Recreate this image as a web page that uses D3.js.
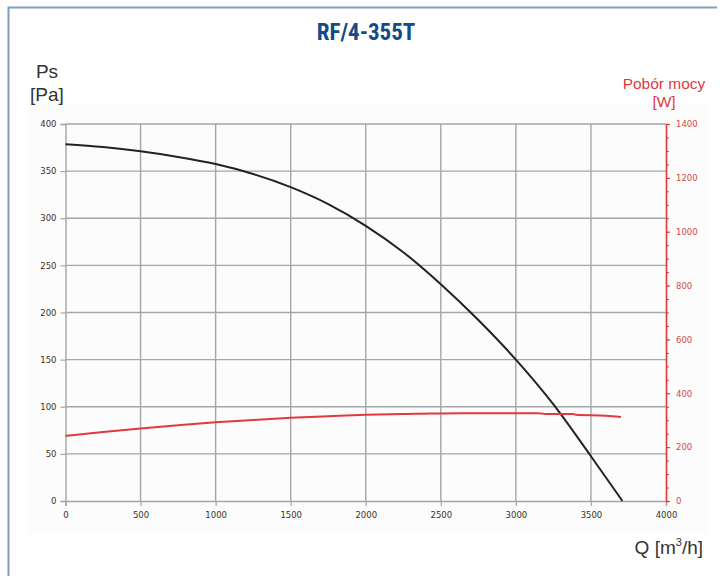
<!DOCTYPE html>
<html><head><meta charset="utf-8">
<script src="https://cdn.jsdelivr.net/npm/d3@7"></script>
<style>body{margin:0;background:#fff}svg{display:block}</style>
</head><body>
<svg id="c" width="725" height="576"></svg>
<script>
const title = "RF/4-355T";
const xTicks = [0,500,1000,1500,2000,2500,3000,3500,4000];
const yTicks = [0,50,100,150,200,250,300,350,400];
const yRTicks = [0,200,400,600,800,1000,1200,1400];
const flow = [0,250,500,750,1000,1250,1500,1750,2000,2250,2500,2750,3000,3250,3500,3710];
const pressure = [378.5,375.5,371,365,357.5,347,333,315,292,264,230,192,150,102.5,47.5,0];
const flowP = [0,250,500,750,1000,1250,1500,1750,2000,2250,2500,2750,3000,3150,3200,3380,3400,3600,3700];
const power = [242,256,269,281,292,301,309,315,320,323,325,326,326,326,323,323,320,317,312];

const svg = d3.select("#c");
const x = d3.scaleLinear().domain([0,4000]).range([65.5,666]);
const y = d3.scaleLinear().domain([0,400]).range([501,124]);
const yR = d3.scaleLinear().domain([0,1400]).range([501,124]);

// frame
svg.append("path").attr("d","M8.5,576 V7.5 H717").attr("fill","none").attr("stroke","#7f9fc0").attr("stroke-width",2);
// light plot background
svg.append("rect").attr("x",28).attr("y",104).attr("width",680).attr("height",430).attr("fill","#fcfcfc");

// title
svg.append("text").attr("x",366).attr("y",40).attr("text-anchor","middle")
  .attr("font-family","'Liberation Sans Narrow','Arial Narrow','Roboto Condensed',sans-serif")
  .attr("font-weight","bold").attr("font-size",23).attr("fill","#154a85").text(title);

// gridlines
const g = svg.append("g");
g.selectAll("line.v").data(xTicks.slice(1,-1)).join("line")
  .attr("x1",d=>x(d)).attr("x2",d=>x(d)).attr("y1",y(400)).attr("y2",y(0))
  .attr("stroke","#a3a6aa").attr("stroke-width",1.4);
g.selectAll("line.h").data(yTicks.slice(1)).join("line")
  .attr("x1",x(0)).attr("x2",x(4000)).attr("y1",d=>y(d)).attr("y2",d=>y(d))
  .attr("stroke","#a3a6aa").attr("stroke-width",1.4);

// left axis
const tickFont = "'DejaVu Sans',Verdana,sans-serif";
const la = svg.append("g").attr("transform",`translate(${x(0)},0)`)
  .call(d3.axisLeft(y).tickValues(yTicks).tickSize(5).tickPadding(4).tickFormat(d3.format("d")));
la.select(".domain").attr("stroke","#a3a6aa").attr("stroke-width",1.4);
la.selectAll(".tick line").attr("stroke","#a3a6aa").attr("stroke-width",1.2);
la.selectAll("text").attr("font-family",tickFont).attr("font-size",8.5).attr("fill","#3a3226");

// bottom axis
const ba = svg.append("g").attr("transform",`translate(0,${y(0)})`)
  .call(d3.axisBottom(x).tickValues(xTicks).tickSize(5).tickPadding(6).tickFormat(d3.format("d")));
ba.select(".domain").attr("stroke","#a3a6aa").attr("stroke-width",1.4);
ba.selectAll(".tick line").attr("stroke","#a3a6aa").attr("stroke-width",1.2);
ba.selectAll("text").attr("font-family",tickFont).attr("font-size",8.5).attr("fill","#3a3226");

// right axis (red) with minor ticks
const red = "#e0393e";
const ra = svg.append("g").attr("transform",`translate(${x(4000)},0)`);
ra.call(d3.axisRight(yR).tickValues(d3.range(0,1401,50)).tickSize(3).tickFormat(""));
ra.select(".domain").attr("stroke",red).attr("stroke-width",1.6);
ra.selectAll(".tick line").attr("stroke",red).attr("stroke-width",1);
const raL = svg.append("g").attr("transform",`translate(${x(4000)},0)`)
  .call(d3.axisRight(yR).tickValues(yRTicks).tickSize(4).tickPadding(6).tickFormat(d3.format("d")));
raL.select(".domain").remove();
raL.selectAll(".tick line").attr("stroke",red).attr("stroke-width",1);
raL.selectAll("text").attr("font-family",tickFont).attr("font-size",8.5).attr("fill","#d04a46");

// curves
const lineP = d3.line().x((d,i)=>x(flow[i])).y(d=>y(d)).curve(d3.curveMonotoneX);
svg.append("path").attr("d",lineP(pressure)).attr("fill","none").attr("stroke","#222").attr("stroke-width",2);
const lineW = d3.line().x((d,i)=>x(flowP[i])).y(d=>yR(d)).curve(d3.curveMonotoneX);
svg.append("path").attr("d",lineW(power)).attr("fill","none").attr("stroke",red).attr("stroke-width",2);

// axis titles
const lf = "'Liberation Sans',Arial,sans-serif";
svg.append("text").attr("x",47).attr("y",78).attr("text-anchor","middle").attr("font-family",lf).attr("font-size",19).attr("fill","#333").text("Ps");
svg.append("text").attr("x",47).attr("y",101).attr("text-anchor","middle").attr("font-family",lf).attr("font-size",19).attr("fill","#333").text("[Pa]");
svg.append("text").attr("x",664).attr("y",89).attr("text-anchor","middle").attr("font-family",lf).attr("font-size",15.5).attr("fill",red).text("Pobór mocy");
svg.append("text").attr("x",664).attr("y",107).attr("text-anchor","middle").attr("font-family",lf).attr("font-size",15.5).attr("fill",red).text("[W]");
const qt = svg.append("text").attr("x",703).attr("y",554).attr("text-anchor","end").attr("font-family",lf).attr("font-size",19).attr("fill","#333");
qt.append("tspan").text("Q [m");
qt.append("tspan").attr("dy",-8).attr("font-size",11).text("3");
qt.append("tspan").attr("dy",8).text("/h]");
</script>
</body></html>
